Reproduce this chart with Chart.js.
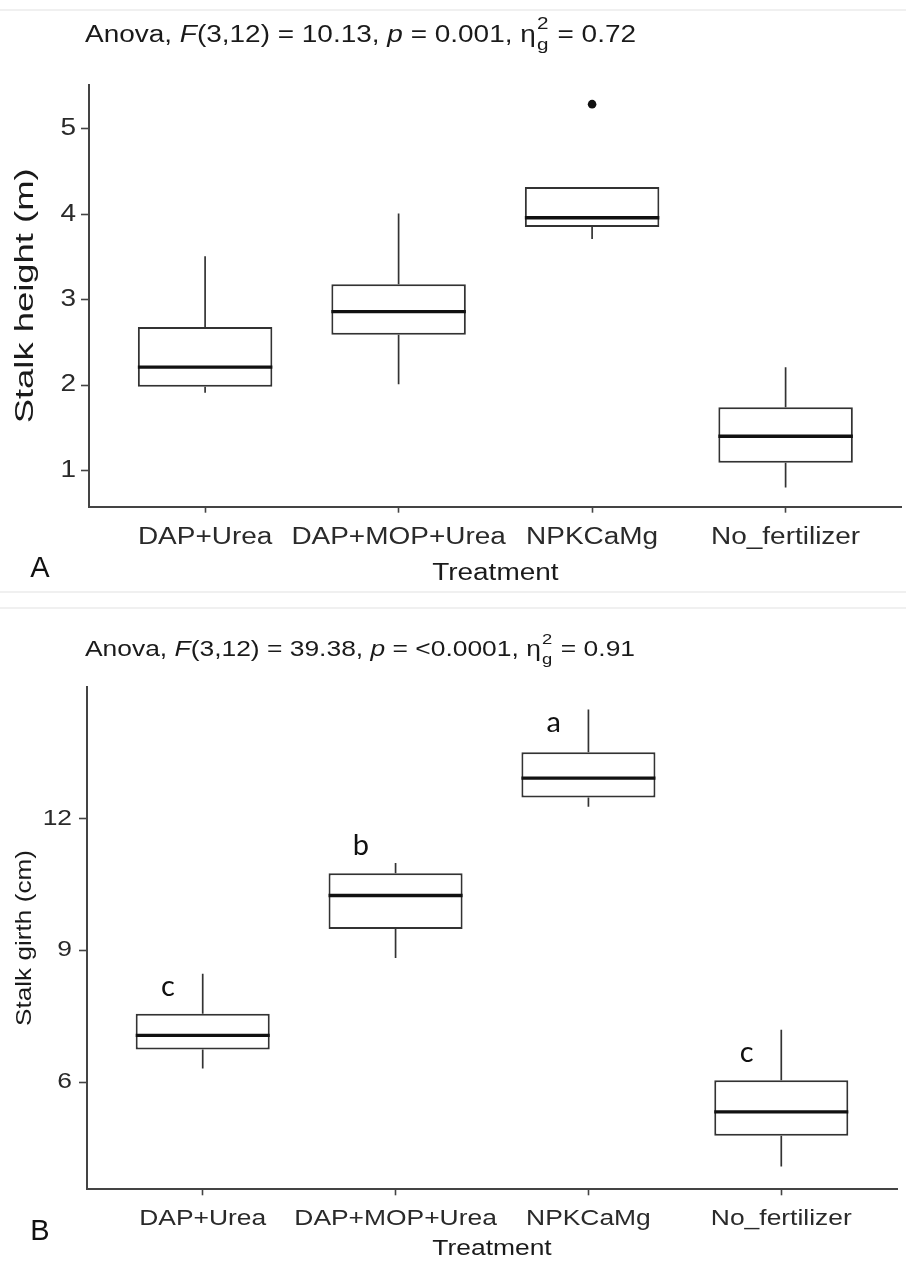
<!DOCTYPE html>
<html>
<head>
<meta charset="utf-8">
<script src="https://cdn.jsdelivr.net/npm/chart.js@4.4.0/dist/chart.umd.min.js"></script>
<style>
  html, body { margin: 0; padding: 0; background: #fff; }
  canvas { display: block; }
</style>
</head>
<body>
<canvas id="grafAltura" width="906" height="600"></canvas>
<canvas id="grafGirth" width="906" height="663"></canvas>
<script>
// Tratamentos (eixo x dos dois painéis)
const tratamentos = ['DAP+Urea', 'DAP+MOP+Urea', 'NPKCaMg', 'No_fertilizer'];

// Painel A: altura do colmo (m)
const alturaMin = [1.91, 2.01, 3.71, 0.80];
const alturaQ1 = [1.98, 2.59, 3.85, 1.09];
const alturaMediana = [2.21, 2.86, 3.96, 1.40];
const alturaQ3 = [2.68, 3.18, 4.32, 1.74];
const alturaMax = [3.51, 4.01, 4.32, 2.21];
const alturaOutliers = [[], [], [5.29], []];
const alturaTicks = [1, 2, 3, 4, 5];
const anovaAltura = ['3,12', '10.13', '0.001', '0.72'];

// Painel B: diâmetro do colmo (cm)
const girthMin = [6.32, 8.83, 12.27, 4.09];
const girthQ1 = [6.75, 9.49, 12.48, 4.79];
const girthMediana = [7.07, 10.25, 12.92, 5.33];
const girthQ3 = [7.56, 10.76, 13.51, 6.05];
const girthMax = [8.47, 10.99, 14.48, 7.20];
const girthOutliers = [[], [], [], []];
const girthTicks = [6, 9, 12];
const girthLetras = ['c', 'b', 'a', 'c'];
const girthLetrasY = [8.17, 11.38, 14.18, 6.67];
const anovaGirth = ['3,12', '39.38', '<0.0001', '0.91'];

const FONTE = '"Liberation Sans", Arial, sans-serif';
const LARGURA_CAIXA = 0.695; // fração do espaço entre tratamentos

// Limites do eixo y com 5% de folga (como no ggplot)
function limites(valores) {
    const lo = Math.min(...valores);
    const hi = Math.max(...valores);
    const folga = (hi - lo) * 0.05;
    return [lo - folga, hi + folga];
}

// Texto com esticamento horizontal (e rotação opcional)
function texto(ctx, t, x, y, fonte, estica, alinhar, rot) {
    ctx.save();
    ctx.translate(x, y);
    if (rot) ctx.rotate(rot);
    ctx.scale(estica, 1);
    ctx.font = fonte;
    ctx.textAlign = alinhar;
    ctx.textBaseline = 'middle';
    ctx.fillText(t, 0, 0);
    ctx.restore();
}

// Título "Anova, F(...) = ..., p = ..., η²g = ..."; devolve a largura sem esticar
function desenharAnova(ctx, a, tam, desenhar) {
    const normal = tam + 'px ' + FONTE;
    const italico = 'italic ' + normal;
    const pequeno = Math.round(tam * 0.72) + 'px ' + FONTE;
    const partes = [
        ['Anova, ', normal], ['F', italico], ['(' + a[0] + ') = ' + a[1] + ', ', normal],
        ['p', italico], [' = ' + a[2] + ', ', normal], ['η', normal]
    ];
    let x = 0;
    ctx.textAlign = 'left';
    ctx.textBaseline = 'alphabetic';
    partes.forEach(([t, f]) => {
        ctx.font = f;
        if (desenhar) ctx.fillText(t, x, 0);
        x += ctx.measureText(t).width;
    });
    ctx.font = pequeno;
    if (desenhar) {
        ctx.fillText('g', x + 1, tam * 0.36);
        ctx.fillText('2', x + 1, -tam * 0.55);
    }
    x += ctx.measureText('g').width + 2;
    ctx.font = normal;
    if (desenhar) ctx.fillText(' = ' + a[3], x, 0);
    return x + ctx.measureText(' = ' + a[3]).width;
}

// Plugin com textos, letra do painel, letras de significância e bordas
function anotacoes(p) {
    return {
        id: 'anotacoes',
        afterDraw(chart) {
            const ctx = chart.ctx;
            const sx = chart.scales.x, sy = chart.scales.y;
            const area = chart.chartArea;
            const fonte = p.tam + 'px ' + FONTE;
            ctx.save();
            ctx.strokeStyle = '#f0f0f0';
            ctx.lineWidth = 2;
            p.bordas.forEach(yb => {
                ctx.beginPath(); ctx.moveTo(0, yb); ctx.lineTo(chart.width, yb); ctx.stroke();
            });

            // título da ANOVA, esticado até a largura desejada
            ctx.fillStyle = '#1a1a1a';
            const larg = desenharAnova(ctx, p.anova, p.tam, false);
            const estica = p.tituloLargura / larg;
            ctx.save();
            ctx.translate(p.tituloX, p.tituloY);
            ctx.scale(estica, 1);
            desenharAnova(ctx, p.anova, p.tam, true);
            ctx.restore();

            // rótulos dos eixos
            ctx.fillStyle = '#2a2a2a';
            sy.ticks.forEach(t => texto(ctx, String(t.value), p.yTickX, sy.getPixelForValue(t.value), fonte, estica, 'right'));
            sx.ticks.forEach(t => texto(ctx, tratamentos[t.value - 1], sx.getPixelForValue(t.value), p.xTickY, fonte, estica, 'center'));
            ctx.fillStyle = '#1a1a1a';
            texto(ctx, 'Treatment', (area.left + area.right) / 2, p.xTituloY, fonte, estica, 'center');
            const fonteY = p.tamY + 'px ' + FONTE;
            ctx.font = fonteY;
            const estY = p.yTituloComprimento / ctx.measureText(p.tituloEixo).width;
            texto(ctx, p.tituloEixo, p.yTituloX, (area.top + area.bottom) / 2, fonteY, estY, 'center', -Math.PI / 2);

            // letra do painel
            ctx.fillStyle = '#111';
            texto(ctx, p.painel, p.painelX, p.painelY, '29px ' + FONTE, 1, 'center');

            // letras do teste de médias
            if (p.letras) {
                p.letras.forEach((l, i) => {
                    texto(ctx, l, sx.getPixelForValue(i + 1 - 0.18), sy.getPixelForValue(p.letrasY[i]),
                          '29px Lato, "Open Sans", sans-serif', 1, 'center');
                });
            }
            ctx.restore();
        }
    };
}

function criarGrafico(id, p) {
    const [yMin, yMax] = limites([...p.min, ...p.max, ...p.outliers.flat()]);
    const caixas = [], bigodes = [], medianas = [], pontos = [];
    tratamentos.forEach((_, i) => {
        const x = i + 1;
        caixas.push({ x: x, y: [p.q1[i], p.q3[i]] });
        bigodes.push({ x: x, y: p.q3[i] }, { x: x, y: p.max[i] }, { x: x, y: null },
                     { x: x, y: p.q1[i] }, { x: x, y: p.min[i] }, { x: x, y: null });
        medianas.push({ x: x - LARGURA_CAIXA / 2, y: p.mediana[i] },
                      { x: x + LARGURA_CAIXA / 2, y: p.mediana[i] }, { x: x, y: null });
        p.outliers[i].forEach(v => pontos.push({ x: x, y: v }));
    });

    const ctx = document.getElementById(id).getContext('2d');
    return new Chart(ctx, {
        type: 'bar',
        data: {
            datasets: [
                { type: 'bar', data: caixas, backgroundColor: '#fff', borderColor: '#333', borderWidth: 2,
                  borderSkipped: false, barPercentage: LARGURA_CAIXA, categoryPercentage: 1, order: 3 },
                { type: 'line', data: bigodes, borderColor: '#333', borderWidth: 1.7, pointRadius: 0, order: 2 },
                { type: 'line', data: medianas, borderColor: '#111', borderWidth: 3.4, pointRadius: 0, order: 1 },
                { type: 'line', data: pontos, showLine: false, pointRadius: 4.3, pointBorderWidth: 0,
                  pointBackgroundColor: '#111', order: 0 }
            ]
        },
        options: {
            responsive: false,
            animation: false,
            events: [],
            layout: { padding: { top: p.topo, right: p.direita, left: 0, bottom: 0 } },
            plugins: { legend: { display: false }, tooltip: { enabled: false }, title: { display: false } },
            scales: {
                x: {
                    type: 'linear', min: 0.4, max: 4.6, offset: false,
                    afterFit: s => { s.height = p.alturaX; },
                    afterBuildTicks: s => { s.ticks = tratamentos.map((_, i) => ({ value: i + 1 })); },
                    grid: { offset: false, drawOnChartArea: false, tickLength: 6, tickColor: '#444', tickWidth: 1.6 },
                    border: { display: true, color: '#444', width: 2 },
                    ticks: { display: false },
                    title: { display: false }
                },
                y: {
                    min: yMin, max: yMax,
                    afterFit: s => { s.width = p.larguraY; },
                    afterBuildTicks: s => { s.ticks = p.ticks.map(v => ({ value: v })); },
                    grid: { drawOnChartArea: false, tickLength: 8, tickColor: '#444', tickWidth: 1.6 },
                    border: { display: true, color: '#444', width: 2 },
                    ticks: { display: false },
                    title: { display: false }
                }
            }
        },
        plugins: [anotacoes(p)]
    });
}

// Painel A
criarGrafico('grafAltura', {
    min: alturaMin, q1: alturaQ1, mediana: alturaMediana, q3: alturaQ3, max: alturaMax,
    outliers: alturaOutliers, ticks: alturaTicks, anova: anovaAltura,
    tituloEixo: 'Stalk height (m)', painel: 'A', tam: 23, tamY: 25,
    topo: 85, alturaX: 93.3, larguraY: 89, direita: 1,
    tituloX: 85, tituloY: 42, tituloLargura: 551,
    yTickX: 76, xTickY: 538, xTituloY: 574, yTituloX: 26, yTituloComprimento: 255,
    painelX: 40, painelY: 569, bordas: [10, 592]
});

// Painel B
criarGrafico('grafGirth', {
    min: girthMin, q1: girthQ1, mediana: girthMediana, q3: girthQ3, max: girthMax,
    outliers: girthOutliers, ticks: girthTicks, anova: anovaGirth,
    letras: girthLetras, letrasY: girthLetrasY,
    tituloEixo: 'Stalk girth (cm)', painel: 'B', tam: 21.5, tamY: 22,
    topo: 86.7, alturaX: 73.7, larguraY: 87, direita: 9,
    tituloX: 85, tituloY: 56, tituloLargura: 550,
    yTickX: 72, xTickY: 619, xTituloY: 649, yTituloX: 25, yTituloComprimento: 176,
    painelX: 40, painelY: 632, bordas: [8]
});
</script>
</body>
</html>
